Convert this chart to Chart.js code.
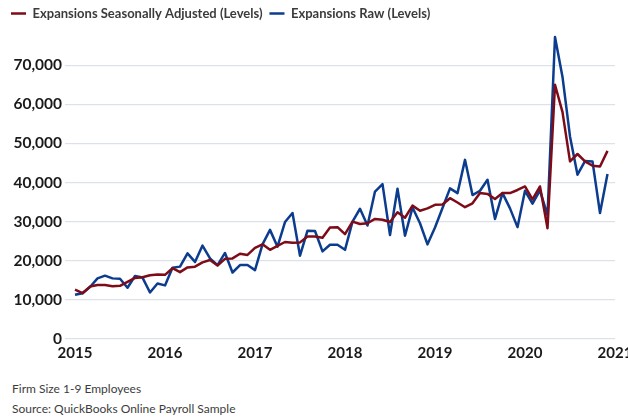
<!DOCTYPE html>
<html>
<head>
<meta charset="utf-8">
<script src="https://cdn.jsdelivr.net/npm/chart.js@4.4.1/dist/chart.umd.min.js"></script>
<style>
    body {
        margin: 0;
        width: 628px;
        height: 420px;
        overflow: hidden;
        background: #ffffff;
        font-family: Lato, 'Open Sans', sans-serif;
        position: relative;
    }
    .chart-box {
        position: absolute;
        left: 0;
        top: 0;
        width: 640px;
        height: 369px;
    }
    .note {
        position: absolute;
        left: 12px;
        font-size: 12px;
        line-height: 20px;
        color: #3d3d3d;
    }
</style>
</head>
<body>
<div class="chart-box"><canvas id="expansionsChart"></canvas></div>
<div class="note" style="top: 379px;">Firm Size 1-9 Employees</div>
<div class="note" style="top: 399px;">Source: QuickBooks Online Payroll Sample</div>
<script>
const years = [2015, 2016, 2017, 2018, 2019, 2020];
const months = ['01', '02', '03', '04', '05', '06', '07', '08', '09', '10', '11', '12'];
const yTicks = [0, 10000, 20000, 30000, 40000, 50000, 60000, 70000];

// monthly expansions, Jan 2015 - Dec 2020
const seasonallyAdjusted = [
    12600, 11700, 13400, 13800, 13800, 13500, 13600, 14600, 15600, 15800, 16300, 16500,
    16400, 18100, 17100, 18300, 18500, 19600, 20200, 18800, 20500, 20600, 21800, 21500,
    23300, 24200, 22800, 23800, 24800, 24600, 24700, 26200, 26200, 25900, 28500, 28600,
    26800, 30000, 29400, 29600, 30700, 30500, 29900, 32400, 31000, 34100, 32800, 33400,
    34300, 34400, 36000, 34900, 33700, 34700, 37300, 37100, 35800, 37300, 37300, 38100,
    39000, 35700, 39000, 28300, 65000, 58000, 45400, 47300, 45400, 44300, 44100, 48100
];
const raw = [
    11300, 11700, 13300, 15500, 16200, 15500, 15400, 13100, 16100, 15700, 11900, 14200,
    13700, 18200, 18500, 21900, 19700, 23900, 20600, 18900, 22000, 17000, 18900, 18900,
    17600, 24200, 27900, 23600, 29900, 32200, 21300, 27700, 27600, 22400, 24100, 24100,
    22800, 30000, 33300, 29000, 37700, 39600, 26600, 38400, 26400, 33600, 29600, 24200,
    28500, 33500, 38500, 37300, 45800, 36800, 37900, 40700, 30700, 37300, 33400, 28600,
    37900, 34600, 38000, 31600, 77200, 67000, 51800, 42000, 45500, 45400, 32200, 42200
];

const monthLabels = [];
years.forEach((year) => {
    months.forEach((m) => monthLabels.push(year + '-' + m));
});
monthLabels.push('2021-01');

Chart.defaults.font.family = "Lato, 'Open Sans', sans-serif";
Chart.defaults.color = '#1a1a1a';

const ctx = document.getElementById('expansionsChart').getContext('2d');
const expansionsChart = new Chart(ctx, {
    type: 'line',
    data: {
        labels: monthLabels,
        datasets: [
            {
                label: 'Expansions Seasonally Adjusted (Levels)',
                data: seasonallyAdjusted,
                borderColor: '#7d0c18',
                backgroundColor: '#7d0c18',
                borderWidth: 2.5,
                borderJoinStyle: 'round',
                pointRadius: 0,
                tension: 0
            },
            {
                label: 'Expansions Raw (Levels)',
                data: raw,
                borderColor: '#0b3c8e',
                backgroundColor: '#0b3c8e',
                borderWidth: 2.5,
                borderJoinStyle: 'round',
                pointRadius: 0,
                tension: 0
            }
        ]
    },
    options: {
        responsive: true,
        maintainAspectRatio: false,
        animation: false,
        layout: {
            padding: { left: 4, right: 25, top: 0, bottom: 2 }
        },
        scales: {
            x: {
                type: 'category',
                offset: false,
                grid: { display: false, drawTicks: false },
                border: { display: false },
                ticks: {
                    autoSkip: false,
                    maxRotation: 0,
                    padding: 5,
                    font: { size: 15, weight: 'bold' },
                    color: '#1a1a1a',
                    callback: function (value) {
                        const label = this.getLabelForValue(value);
                        return label.endsWith('-01') ? label.slice(0, 4) : '';
                    }
                }
            },
            y: {
                min: 0,
                max: 79000,
                grid: {
                    color: '#dde2e8',
                    lineWidth: 1.2,
                    drawTicks: true,
                    tickLength: 10
                },
                border: { display: false },
                afterBuildTicks: (scale) => {
                    scale.ticks = yTicks.map((v) => ({ value: v }));
                },
                ticks: {
                    padding: 3,
                    font: { size: 15.5, weight: 'bold' },
                    color: '#1a1a1a',
                    callback: (value) => value.toLocaleString('en-US')
                },
                afterFit: (scale) => {
                    scale.width = 71;
                }
            }
        },
        plugins: {
            legend: {
                position: 'top',
                align: 'start',
                labels: {
                    usePointStyle: true,
                    pointStyle: 'line',
                    pointStyleWidth: 15,
                    padding: 7,
                    color: '#3b3b3b',
                    font: { size: 13, weight: 'bold' }
                }
            },
            tooltip: { enabled: false }
        }
    }
});
</script>
</body>
</html>
